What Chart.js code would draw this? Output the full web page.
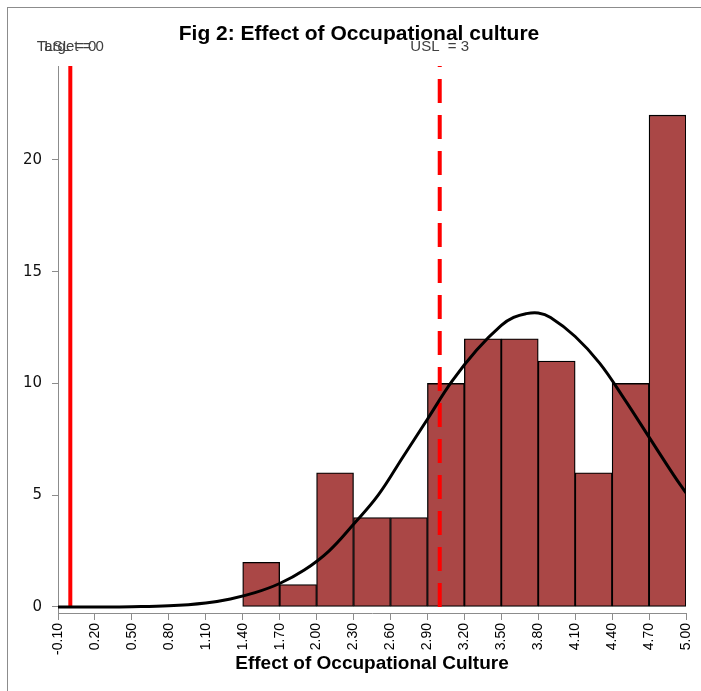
<!DOCTYPE html>
<html>
<head>
<meta charset="utf-8">
<script src="https://cdn.jsdelivr.net/npm/chart.js@4.4.1/dist/chart.umd.min.js"></script>
<style>
  html, body { margin: 0; padding: 0; background: #fff; }
  #wrap { position: relative; width: 701px; height: 691px; overflow: hidden; }
  #frame { position: absolute; left: 7px; top: 7px; width: 720px; height: 720px; border-left: 1px solid #8c8c8c; border-top: 1px solid #8c8c8c; }
  canvas { position: absolute; left: 0; top: 0; }
</style>
</head>
<body>
<div id="wrap">
  <div id="frame"></div>
  <canvas id="myChart" width="701" height="691"></canvas>
</div>
<script>
// tick labels
const xTicks = [-0.1, 0.2, 0.5, 0.8, 1.1, 1.4, 1.7, 2.0, 2.3, 2.6, 2.9, 3.2, 3.5, 3.8, 4.1, 4.4, 4.7, 5.0];
const yTicks = [0, 5, 10, 15, 20];

// histogram bins (centre of each 0.3 wide bin) and counts
const binCenters = [1.55, 1.85, 2.15, 2.45, 2.75, 3.05, 3.35, 3.65, 3.95, 4.25, 4.55, 4.85];
const binCounts = [2, 1, 6, 4, 4, 10, 12, 12, 11, 6, 10, 22];

// fitted curve
const curveX = [-0.1, 0.2, 0.5, 0.8, 1.1, 1.3, 1.5, 1.7, 1.9, 2.1, 2.3, 2.5, 2.7, 2.9, 3.1, 3.3, 3.5, 3.6, 3.7, 3.8, 3.9, 4.1, 4.3, 4.5, 4.7, 4.9, 5.0];
const curveY = [0, 0, 0.01, 0.05, 0.18, 0.36, 0.64, 1.05, 1.65, 2.5, 3.7, 5.0, 6.7, 8.4, 10.1, 11.5, 12.6, 12.95, 13.12, 13.15, 12.95, 12.1, 10.9, 9.3, 7.6, 5.9, 5.1];

// spec limits
const targetValue = 0;
const lslValue = 0;
const uslValue = 3;

const yMin = -0.27;
const yMax = 24.2;

const histData = binCenters.map((x, i) => ({ x: x, y: binCounts[i] }));
const curveData = curveX.map((x, i) => ({ x: x, y: curveY[i] }));

const labels = {
  id: 'labels',
  afterDraw(chart) {
    const ctx = chart.ctx;
    const xs = chart.scales.x;
    ctx.save();
    ctx.textAlign = 'center';
    ctx.textBaseline = 'middle';
    ctx.fillStyle = '#000';
    ctx.font = 'bold 21px "Liberation Sans", Arial, sans-serif';
    ctx.fillText('Fig 2: Effect of Occupational culture', 359, 34);

    ctx.font = '15px "Liberation Sans", Arial, sans-serif';
    ctx.fillStyle = '#404040';
    ctx.fillText('Target = 0', xs.getPixelForValue(targetValue), 47);
    ctx.fillText('LSL = 0', xs.getPixelForValue(lslValue), 47);
    ctx.fillText('USL  = 3', xs.getPixelForValue(uslValue), 47);
    ctx.restore();
  }
};

new Chart(document.getElementById('myChart'), {
  type: 'bar',
  data: {
    datasets: [
      {
        type: 'line',
        label: 'Curve',
        data: curveData,
        borderColor: '#000',
        borderWidth: 3,
        pointRadius: 0,
        tension: 0.4,
        fill: false,
        order: 0
      },
      {
        type: 'line',
        label: 'Target / LSL',
        data: [{ x: lslValue, y: 0 }, { x: lslValue, y: yMax }],
        borderColor: '#ff0000',
        borderWidth: 4,
        pointRadius: 0,
        order: 1
      },
      {
        type: 'line',
        label: 'USL',
        data: [{ x: uslValue, y: 0 }, { x: uslValue, y: yMax }],
        borderColor: '#ff0000',
        borderWidth: 4,
        borderDash: [24, 12],
        pointRadius: 0,
        order: 1
      },
      {
        type: 'bar',
        label: 'Count',
        data: histData,
        backgroundColor: '#aa4746',
        borderColor: '#000',
        borderWidth: 1.3,
        borderSkipped: false,
        barPercentage: 1,
        categoryPercentage: 1,
        order: 2
      }
    ]
  },
  options: {
    responsive: false,
    animation: false,
    layout: { padding: { left: 8, right: 15, top: 66, bottom: 0 } },
    plugins: {
      legend: { display: false },
      tooltip: { enabled: false }
    },
    scales: {
      x: {
        type: 'linear',
        min: -0.1,
        max: 5.0,
        offset: false,
        afterBuildTicks: (scale) => { scale.ticks = xTicks.map(v => ({ value: v })); },
        afterFit: (scale) => {
          scale.height = 78;
          scale.paddingLeft = 0;
          scale.paddingRight = 0;
        },
        grid: { drawOnChartArea: false, tickLength: 7, color: '#8c8c8c', offset: false },
        border: { display: true, color: '#8c8c8c' },
        ticks: {
          autoSkip: false,
          minRotation: 90,
          maxRotation: 90,
          padding: 3,
          color: '#000',
          font: { family: '"Liberation Sans", Arial, sans-serif', size: 14 },
          callback: (v) => Number(v).toFixed(2)
        },
        title: {
          display: true,
          text: 'Effect of Occupational Culture',
          color: '#000',
          font: { family: '"Liberation Sans", Arial, sans-serif', size: 19, weight: 'bold' },
          padding: { top: 0, bottom: 16 }
        }
      },
      y: {
        min: yMin,
        max: yMax,
        afterBuildTicks: (scale) => { scale.ticks = yTicks.map(v => ({ value: v })); },
        afterFit: (scale) => { scale.width = 50; },
        grid: { drawOnChartArea: false, tickLength: 6, color: '#8c8c8c' },
        border: { display: true, color: '#8c8c8c' },
        ticks: {
          padding: 10,
          color: '#111',
          font: { family: '"DejaVu Sans", Verdana, sans-serif', size: 15 }
        }
      }
    }
  },
  plugins: [labels]
});
</script>
</body>
</html>
